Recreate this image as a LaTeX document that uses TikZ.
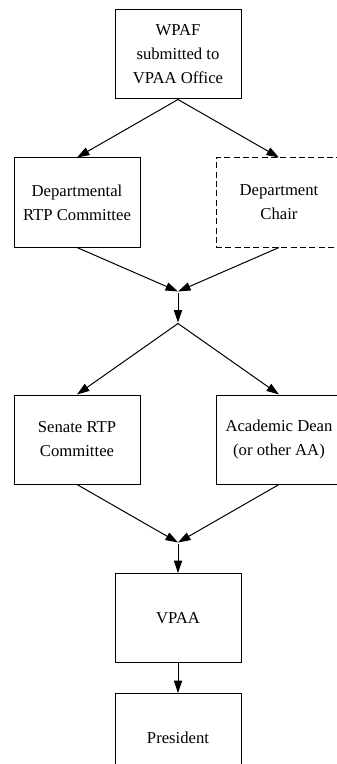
\documentclass[tikz,border=0pt]{standalone}
\usepackage{fontspec}
\setmainfont{Liberation Serif}
\usetikzlibrary{arrows.meta}

\begin{document}
\begin{tikzpicture}[x=0.6pt, y=-0.6pt, line width=0.6pt,
   box/.style={rectangle, draw, minimum width=75.6pt, minimum height=53.4pt,
      inner sep=0pt, align=center, font=\fontsize{10}{14.4}\selectfont},
   joint/.style={inner sep=0pt, minimum size=0pt},
   into/.style={-{Triangle[length=7.5pt, width=5pt]}}]

   \useasboundingbox (0,0) rectangle (336,764);

   \foreach \x/\y/\n/\t in {178/54.5/wpaf/{WPAF\\submitted to\\VPAA Office},
         77/202.5/drtp/{Departmental\\RTP Committee},
         77/439.5/srtp/{Senate RTP\\Committee},
         279/439.5/dean/{Academic Dean\\(or other AA)},
         178/618/vpaa/{VPAA}, 178/738/pres/{President}}
     \node [box] (\n) at (\x,\y) {\t};
   \node [box, dash pattern=on 3.6pt off 2pt] (chair) at (279,202.5) {Department\\Chair};

   \foreach \x/\y/\n in {178/292/m1, 178/323/s1, 178/543/m2}
     \node [joint] (\n) at (\x,\y) {};

    \foreach \i/\j in {wpaf/drtp, wpaf/chair, drtp/m1, chair/m1, m1/s1, s1/srtp,
          s1/dean, srtp/m2, dean/m2, m2/vpaa, vpaa/pres}
        \draw [into] (\i.south) -- (\j.north);

\end{tikzpicture}
\end{document}
